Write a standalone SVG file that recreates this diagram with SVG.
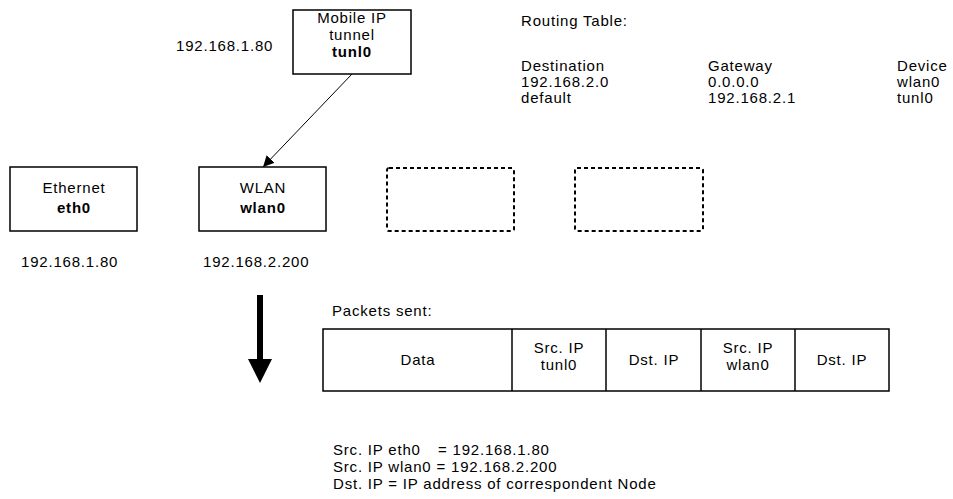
<svg xmlns="http://www.w3.org/2000/svg" width="953" height="499" viewBox="0 0 953 499">
  <style>
    text { font-family: "Liberation Sans", Arial, sans-serif; font-size: 15px; fill: #000; letter-spacing: 0.8px; }
    .c { text-anchor: middle; }
    .b { font-weight: bold; }
    .box { fill: #fff; stroke: #000; stroke-width: 1.5; }
    .dash { fill: none; stroke: #000; stroke-width: 2; stroke-dasharray: 4 3; }
    .cell { fill: none; stroke: #000; stroke-width: 1.5; }
    .link { stroke: #000; stroke-width: 1; fill: none; }
  </style>
  <defs>
    <marker id="head" viewBox="0 0 10 10" refX="10" refY="5" markerWidth="11" markerHeight="11" markerUnits="userSpaceOnUse" orient="auto">
      <path d="M0,0 L10,5 L0,10 z" fill="#000"/>
    </marker>
  </defs>

  <!-- Mobile IP tunnel device -->
  <g id="tunl0">
    <rect class="box" x="293" y="10" width="118" height="64"/>
    <text class="c" x="352" y="23">Mobile IP</text>
    <text class="c" x="352" y="40">tunnel</text>
    <text class="c b" x="352" y="57">tunl0</text>
  </g>
  <text x="176" y="51">192.168.1.80</text>

  <!-- Ethernet device -->
  <g id="eth0">
    <rect class="box" x="10" y="167" width="127" height="64"/>
    <text class="c" x="74" y="193">Ethernet</text>
    <text class="c b" x="74" y="213">eth0</text>
  </g>
  <text x="21" y="267">192.168.1.80</text>

  <!-- WLAN device -->
  <g id="wlan0">
    <rect class="box" x="199" y="167" width="127" height="64"/>
    <text class="c" x="263" y="193">WLAN</text>
    <text class="c b" x="263" y="213">wlan0</text>
  </g>
  <text x="203" y="267">192.168.2.200</text>

  <!-- unused device slots -->
  <g id="slot1">
    <rect class="dash" x="387" y="168" width="127" height="63" rx="2"/>
  </g>
  <g id="slot2">
    <rect class="dash" x="575" y="168" width="128" height="63" rx="2"/>
  </g>

  <!-- connectors -->
  <g id="connectors">
    <line class="link" x1="352" y1="74" x2="263" y2="167" marker-end="url(#head)"/>
  </g>

  <!-- routing table -->
  <g id="routing-table">
    <text x="521" y="26">Routing Table:</text>
    <text x="521" y="71">Destination</text>
    <text x="521" y="87">192.168.2.0</text>
    <text x="521" y="103">default</text>
    <text x="708" y="71">Gateway</text>
    <text x="708" y="87">0.0.0.0</text>
    <text x="708" y="103">192.168.2.1</text>
    <text x="897" y="71">Device</text>
    <text x="897" y="87">wlan0</text>
    <text x="897" y="103">tunl0</text>
  </g>

  <!-- send direction -->
  <g id="send-arrow">
    <rect x="257" y="295" width="6" height="66" fill="#000"/>
    <polygon points="248,359 272,359 260,383" fill="#000"/>
  </g>

  <!-- packet layout -->
  <g id="packet">
    <text x="332" y="316">Packets sent:</text>
    <rect class="cell" x="323" y="329" width="566" height="62"/>
    <line class="cell" x1="512" y1="329" x2="512" y2="391"/>
    <line class="cell" x1="606" y1="329" x2="606" y2="391"/>
    <line class="cell" x1="701" y1="329" x2="701" y2="391"/>
    <line class="cell" x1="795" y1="329" x2="795" y2="391"/>
    <text class="c" x="418" y="365">Data</text>
    <text class="c" x="559" y="353">Src. IP</text>
    <text class="c" x="559" y="370">tunl0</text>
    <text class="c" x="654" y="365">Dst. IP</text>
    <text class="c" x="748" y="353">Src. IP</text>
    <text class="c" x="748" y="370">wlan0</text>
    <text class="c" x="842" y="365">Dst. IP</text>
  </g>

  <!-- legend -->
  <g id="legend">
    <text x="333" y="455">Src. IP eth0<tspan x="438">= 192.168.1.80</tspan></text>
    <text x="333" y="472">Src. IP wlan0 = 192.168.2.200</text>
    <text x="333" y="489">Dst. IP = IP address of correspondent Node</text>
  </g>
</svg>
